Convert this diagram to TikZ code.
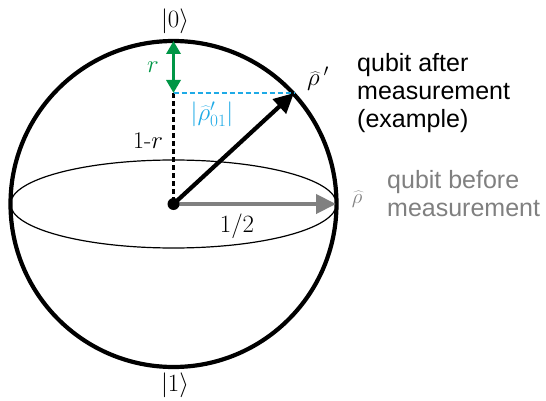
\documentclass[tikz,border=0pt]{standalone}
\usepackage{fontspec}
\setsansfont{Liberation Sans}
\usetikzlibrary{arrows.meta}
\definecolor{qgreen}{RGB}{0,150,70}
\definecolor{qblue}{RGB}{30,170,230}
\definecolor{qgray}{RGB}{128,128,128}
\tikzset{
  lbl/.style={inner sep=0pt, font=\fontsize{26}{30}\selectfont},
  txt/.style={inner sep=0pt, anchor=base west, font=\sffamily\fontsize{25}{28}\selectfont},
  bighead/.style={-{Triangle[length=20pt,width=19pt]}},
  dashline/.style={line width=2.4pt, dash pattern=on 5pt off 3pt},
}
\begin{document}
\begin{tikzpicture}[x=1pt,y=-1pt]
\useasboundingbox (0,0) rectangle (546,401);
\coordinate (c) at (173.5,204);
\coordinate (east) at (336,204);
\coordinate (top) at (173.5,41);
\coordinate (foot) at (173.5,93);
\coordinate (tip) at (294,93);
% equator
\draw[line width=1.2pt] (c) ellipse [x radius=163, y radius=44];
% sphere
\draw[line width=4.2pt] (c) circle [radius=163];
% dashed lines
\draw[dashline] (foot) -- (c);
\draw[dashline, qblue] (foot) -- (tip);
% green r arrow
\draw[qgreen, line width=3.4pt, {Triangle[length=13pt,width=14pt]}-{Triangle[length=13pt,width=14pt]}] (top) -- (foot);
% gray arrow
\draw[qgray, line width=4.2pt, bighead] (c) -- (east);
% black arrow
\draw[black, line width=4.2pt, bighead] (c) -- (tip);
\fill (c) circle [radius=6];
% labels
\node[lbl] (k0) at (175,21) {$|0\rangle$};
\node[lbl] (k1) at (175,385) {$|1\rangle$};
\node[lbl, text=qgreen, font=\fontsize{25}{28}\selectfont] (rl) at (153,67) {$r$};
\node[lbl, font=\fontsize{24}{28}\selectfont] (omr) at (148,141) {1-$r$};
\node[lbl] (half) at (237,226) {$1/2$};
\node[lbl, text=qblue] (rho01) at (212,114) {$|\widehat{\rho}_{01}'|$};
\node[lbl, font=\fontsize{24}{28}\selectfont] (rhop) at (318,79) {$\widehat{\rho}\,'$};
\node[lbl, text=qgray, font=\fontsize{22}{24}\selectfont] (rho) at (357,199) {$\widehat{\rho}$};
\node[txt] (after1) at (357,72) {qubit after};
\node[txt] (after2) at (357,100) {measurement};
\node[txt] (after3) at (357,128) {(example)};
\node[txt, text=qgray] (before1) at (387,188) {qubit before};
\node[txt, text=qgray] (before2) at (387,216) {measurement};
\end{tikzpicture}
\end{document}
